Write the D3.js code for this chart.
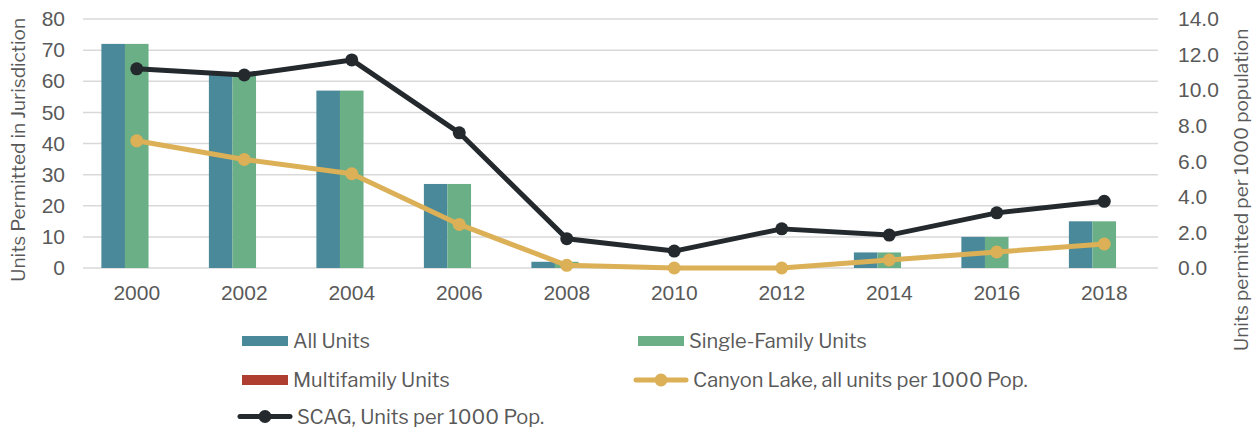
<!DOCTYPE html>
<html>
<head>
<meta charset="utf-8">
<script src="https://cdn.jsdelivr.net/npm/d3@7"></script>
<style>
  body { margin: 0; background: #fff; }
  svg { font-family: "Libre Franklin", Roboto, "Liberation Sans", sans-serif; }
  .tick text { fill: #595959; font-size: 21px; }
  .label { fill: #595959; font-size: 19px; }
  .legend text { fill: #595959; font-size: 20px; }
</style>
</head>
<body>
<svg width="1260" height="430"></svg>
<script>
const years = ["2000", "2002", "2004", "2006", "2008", "2010", "2012", "2014", "2016", "2018"];
const allUnits = [72, 62, 57, 27, 2, 0, 0, 5, 10, 15];
const singleFamily = [72, 62, 57, 27, 2, 0, 0, 5, 10, 15];
const multiFamily = [0, 0, 0, 0, 0, 0, 0, 0, 0, 0];
const canyonLake = [7.15, 6.1, 5.3, 2.45, 0.15, 0, 0, 0.45, 0.9, 1.35];
const scag = [11.2, 10.85, 11.7, 7.6, 1.65, 0.95, 2.2, 1.85, 3.1, 3.75];
const leftTicks = [0, 10, 20, 30, 40, 50, 60, 70, 80];
const rightTicks = [0, 2, 4, 6, 8, 10, 12, 14];

const colors = {
  all: "#4a8999",
  single: "#6aaf86",
  multi: "#b03e30",
  canyon: "#dcb056",
  scag: "#23292d"
};

const plotLeft = 83, plotRight = 1158, plotTop = 19, plotBottom = 268;

const svg = d3.select("svg");

const xScale = d3.scaleBand()
  .domain(years)
  .range([plotLeft, plotRight]);

const barScale = d3.scaleBand()
  .domain(["all", "single", "multi"])
  .range([0, xScale.bandwidth()])
  .paddingOuter(0.78)
  .paddingInner(0);

const yScale = d3.scaleLinear().domain([0, 80]).range([plotBottom, plotTop]);
const y2Scale = d3.scaleLinear().domain([0, 14]).range([plotBottom, plotTop]);

// gridlines
svg.append("g")
  .selectAll("line")
  .data(leftTicks)
  .join("line")
  .attr("x1", plotLeft).attr("x2", plotRight)
  .attr("y1", d => yScale(d)).attr("y2", d => yScale(d))
  .attr("stroke", "#d9d9d9")
  .attr("stroke-width", 1.5);

// left axis
svg.append("g")
  .attr("transform", `translate(${plotLeft - 6}, 0)`)
  .call(d3.axisLeft(yScale).tickValues(leftTicks).tickSize(0).tickPadding(12))
  .call(g => g.select(".domain").remove());

// right axis
svg.append("g")
  .attr("transform", `translate(${plotRight + 8}, 0)`)
  .call(d3.axisRight(y2Scale).tickValues(rightTicks).tickSize(0).tickPadding(12).tickFormat(d3.format(".1f")))
  .call(g => g.select(".domain").remove());

// bottom axis
svg.append("g")
  .attr("transform", `translate(0, ${plotBottom})`)
  .call(d3.axisBottom(xScale).tickSize(0).tickPadding(17))
  .call(g => g.select(".domain").remove());

// bars
const series = [
  { key: "all", values: allUnits },
  { key: "single", values: singleFamily },
  { key: "multi", values: multiFamily }
];
series.forEach(s => {
  svg.append("g")
    .selectAll("rect")
    .data(years)
    .join("rect")
    .attr("x", (d) => xScale(d) + barScale(s.key))
    .attr("y", (d, i) => yScale(s.values[i]))
    .attr("width", barScale.bandwidth())
    .attr("height", (d, i) => plotBottom - yScale(s.values[i]))
    .attr("fill", colors[s.key]);
});

// lines
const cx = d => xScale(d) + xScale.bandwidth() / 2;
[{ vals: canyonLake, color: colors.canyon }, { vals: scag, color: colors.scag }].forEach(l => {
  const line = d3.line()
    .x((d, i) => cx(years[i]))
    .y(d => y2Scale(d));
  svg.append("path")
    .datum(l.vals)
    .attr("d", line)
    .attr("fill", "none")
    .attr("stroke", l.color)
    .attr("stroke-width", 5)
    .attr("stroke-linejoin", "round");
  svg.append("g")
    .selectAll("circle")
    .data(l.vals)
    .join("circle")
    .attr("cx", (d, i) => cx(years[i]))
    .attr("cy", d => y2Scale(d))
    .attr("r", 6.5)
    .attr("fill", l.color);
});

// axis titles
svg.append("text")
  .attr("class", "label")
  .attr("transform", `translate(25, 150) rotate(-90)`)
  .attr("text-anchor", "middle")
  .text("Units Permitted in Jurisdiction");

svg.append("text")
  .attr("class", "label")
  .attr("transform", `translate(1248, 190) rotate(-90)`)
  .attr("text-anchor", "middle")
  .text("Units permitted per 1000 population");

// legend
const legendItems = [
  { label: "All Units", type: "rect", color: colors.all, x: 242, y: 341 },
  { label: "Single-Family Units", type: "rect", color: colors.single, x: 638, y: 341 },
  { label: "Multifamily Units", type: "rect", color: colors.multi, x: 242, y: 380 },
  { label: "Canyon Lake, all units per 1000 Pop.", type: "line", color: colors.canyon, x: 636, y: 380 },
  { label: "SCAG, Units per 1000 Pop.", type: "line", color: colors.scag, x: 240, y: 416.5 }
];
const legend = svg.append("g").attr("class", "legend");
legendItems.forEach(item => {
  const g = legend.append("g").attr("transform", `translate(${item.x}, ${item.y})`);
  if (item.type === "rect") {
    g.append("rect").attr("x", 0).attr("y", -5).attr("width", 46).attr("height", 10).attr("fill", item.color);
  } else {
    g.append("line").attr("x1", 0).attr("x2", 50).attr("y1", 0).attr("y2", 0)
      .attr("stroke", item.color).attr("stroke-width", 5).attr("stroke-linecap", "round");
    g.append("circle").attr("cx", 25).attr("cy", 0).attr("r", 6.5).attr("fill", item.color);
  }
  g.append("text")
    .attr("x", item.type === "rect" ? 51 : 57)
    .attr("y", 0)
    .attr("dy", "0.35em")
    .text(item.label);
});
</script>
</body>
</html>
